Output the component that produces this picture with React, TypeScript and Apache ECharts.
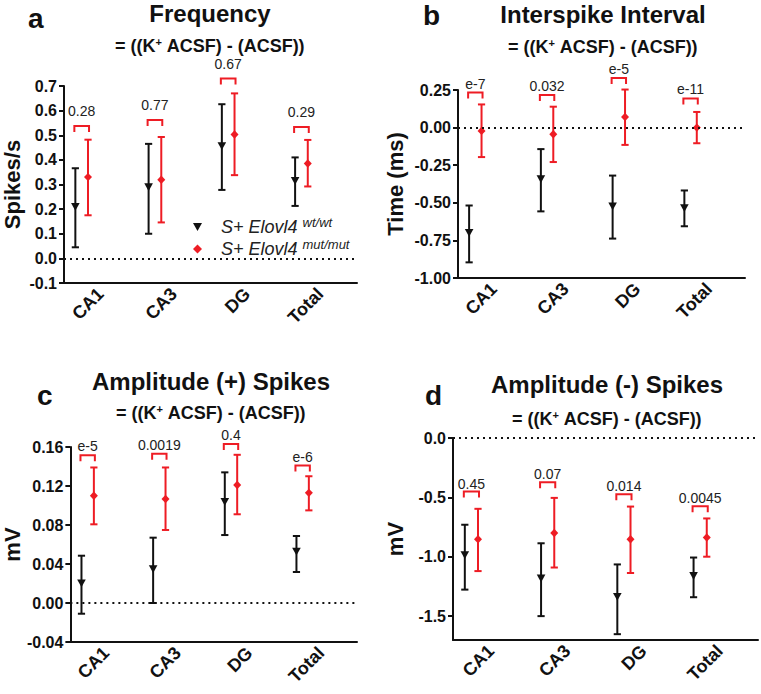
import React, { useEffect, useRef } from 'react';
import * as echarts from 'echarts';

const categories = ['CA1', 'CA3', 'DG', 'Total'];

// a: Frequency (Spikes/s)
const freqWtMean = [0.21, 0.29, 0.457, 0.316];
const freqWtLow = [0.045, 0.1, 0.278, 0.213];
const freqWtHigh = [0.366, 0.465, 0.626, 0.41];
const freqMutMean = [0.33, 0.319, 0.503, 0.385];
const freqMutLow = [0.175, 0.146, 0.338, 0.292];
const freqMutHigh = [0.482, 0.493, 0.67, 0.481];
const freqBracket = [0.538, 0.562, 0.73, 0.534];
const freqP = ['0.28', '0.77', '0.67', '0.29'];
const freqTicks = [-0.1, 0.7, 0.1];

// b: Interspike Interval (ms)
const isiWtMean = [-0.698, -0.341, -0.522, -0.533];
const isiWtLow = [-0.896, -0.557, -0.738, -0.656];
const isiWtHigh = [-0.518, -0.143, -0.319, -0.418];
const isiMutMean = [-0.022, -0.044, 0.07, 0.0];
const isiMutLow = [-0.196, -0.229, -0.115, -0.104];
const isiMutHigh = [0.154, 0.139, 0.253, 0.104];
const isiBracket = [0.233, 0.216, 0.33, 0.194];
const isiP = ['e-7', '0.032', 'e-5', 'e-11'];
const isiTicks = [-1, 0.25, 0.25];

// c: Amplitude (+) spikes (mV)
const ampPWtMean = [0.0205, 0.035, 0.104, 0.053];
const ampPWtLow = [-0.011, 0.0, 0.0697, 0.0318];
const ampPWtHigh = [0.0485, 0.067, 0.134, 0.0687];
const ampPMutMean = [0.11, 0.1067, 0.121, 0.113];
const ampPMutLow = [0.0807, 0.0749, 0.091, 0.095];
const ampPMutHigh = [0.139, 0.139, 0.152, 0.13];
const ampPBracket = [0.1515, 0.153, 0.163, 0.141];
const ampPP = ['e-5', '0.0019', '0.4', 'e-6'];
const ampPTicks = [-0.04, 0.16, 0.04];

// d: Amplitude (-) spikes (mV)
const ampNWtMean = [-0.983, -1.18, -1.335, -1.159];
const ampNWtLow = [-1.276, -1.499, -1.651, -1.34];
const ampNWtHigh = [-0.73, -0.886, -1.064, -1.006];
const ampNMutMean = [-0.852, -0.8, -0.852, -0.838];
const ampNMutLow = [-1.12, -1.09, -1.136, -0.999];
const ampNMutHigh = [-0.596, -0.504, -0.577, -0.677];
const ampNBracket = [-0.451, -0.373, -0.473, -0.574];
const ampNP = ['0.45', '0.07', '0.014', '0.0045'];
const ampNTickValues = [0, -0.5, -1, -1.5];
const ampNRange = [-1.7, 0];

const FONT = '"Liberation Sans", Arial, Helvetica, sans-serif';
const RED = '#ee1c24';
const BLACK = '#111111';
const WT_OFF = -0.345;
const MUT_OFF = -0.172;
const WT_NAME = 'S+ Elovl4 wt/wt';
const MUT_NAME = 'S+ Elovl4 mut/mut';

function errorSeries(name: string, g: number, mean: number[], lo: number[], hi: number[], color: string, kind: string, off: number) {
  return {
    type: 'custom',
    name,
    xAxisIndex: g,
    yAxisIndex: g,
    itemStyle: { color },
    data: mean.map((m, i) => [i, m, lo[i], hi[i]]),
    encode: { x: 0, y: [1, 2, 3] },
    renderItem: (params: any, api: any) => {
      const ci = api.value(0);
      const c = api.coord([ci, api.value(1)]);
      const band = api.size([1, 0])[0];
      const x = c[0] + off * band;
      const ym = c[1];
      const yl = api.coord([ci, api.value(2)])[1];
      const yh = api.coord([ci, api.value(3)])[1];
      const cw = 3.6;
      const ls = { stroke: color, lineWidth: 2 };
      const marker =
        kind === 'tri'
          ? { type: 'polygon', shape: { points: [[x - 4.3, ym - 3.6], [x + 4.3, ym - 3.6], [x, ym + 4.2]] }, style: { fill: color } }
          : { type: 'polygon', shape: { points: [[x, ym - 4.2], [x + 4, ym], [x, ym + 4.2], [x - 4, ym]] }, style: { fill: color } };
      return {
        type: 'group',
        children: [
          { type: 'line', shape: { x1: x, y1: yh, x2: x, y2: yl }, style: ls },
          { type: 'line', shape: { x1: x - cw, y1: yh, x2: x + cw, y2: yh }, style: ls },
          { type: 'line', shape: { x1: x - cw, y1: yl, x2: x + cw, y2: yl }, style: ls },
          marker,
        ],
      };
    },
  };
}

function bracketSeries(g: number, ys: number[], labels: string[], gap: number) {
  return {
    type: 'custom',
    name: 'p',
    xAxisIndex: g,
    yAxisIndex: g,
    data: ys.map((y, i) => [i, y]),
    encode: { x: 0, y: 1 },
    renderItem: (params: any, api: any) => {
      const ci = api.value(0);
      const c = api.coord([ci, api.value(1)]);
      const band = api.size([1, 0])[0];
      const x1 = c[0] + WT_OFF * band - 1;
      const x2 = c[0] + MUT_OFF * band + 1;
      const y = c[1];
      const leg = 6;
      return {
        type: 'group',
        children: [
          { type: 'polyline', shape: { points: [[x1, y + leg], [x1, y], [x2, y], [x2, y + leg]] }, style: { stroke: RED, lineWidth: 2, fill: null } },
          {
            type: 'text',
            style: {
              text: labels[params.dataIndex],
              x: (x1 + x2) / 2,
              y: y - gap + 2,
              align: 'center',
              verticalAlign: 'bottom',
              fontSize: 14,
              fontFamily: FONT,
              fill: '#222',
            },
          },
        ],
      };
    },
  };
}

function zeroLine(g: number) {
  return {
    type: 'line',
    name: 'zero',
    xAxisIndex: g,
    yAxisIndex: g,
    data: [],
    silent: true,
    markLine: {
      silent: true,
      symbol: ['none', 'none'],
      label: { show: false },
      lineStyle: { color: BLACK, width: 2, type: [2, 4] },
      data: [{ yAxis: 0 }],
    },
  };
}

function xAxis(g: number) {
  return {
    type: 'category',
    gridIndex: g,
    data: categories,
    boundaryGap: true,
    axisLine: { onZero: false, lineStyle: { color: BLACK, width: 2 } },
    axisTick: { alignWithLabel: true, length: 5, lineStyle: { color: BLACK, width: 2 } },
    axisLabel: { rotate: 45, margin: 8, fontSize: 18, fontWeight: 'bold', color: BLACK, fontFamily: FONT },
    splitLine: { show: false },
  };
}

function yAxis(g: number, name: string, nameGap: number, dec: number, extra: any) {
  return {
    type: 'value',
    gridIndex: g,
    axisLine: { show: true, lineStyle: { color: BLACK, width: 2 } },
    axisTick: { show: true, length: 5, lineStyle: { color: BLACK, width: 2 } },
    splitLine: { show: false },
    axisLabel: {
      formatter: (v: number) => (Math.abs(v) < 1e-9 ? 0 : v).toFixed(dec),
      fontSize: 16,
      fontWeight: 'bold',
      margin: 7,
      color: BLACK,
      fontFamily: FONT,
    },
    name,
    nameLocation: 'middle',
    nameRotate: 90,
    nameGap,
    nameTextStyle: { fontSize: 22, fontWeight: 'bold', fontFamily: FONT, color: BLACK },
    ...extra,
  };
}

function titleEls(cx: number, ty: number, sy: number, title: string, lx: number, ly: number, letter: string) {
  return [
    { type: 'text', x: cx, y: ty, style: { text: title, align: 'center', verticalAlign: 'middle', fontSize: 24, fontWeight: 'bold', fontFamily: FONT, fill: BLACK } },
    {
      type: 'text',
      x: cx,
      y: sy,
      style: {
        text: '= ((K{s|+} ACSF) - (ACSF))',
        align: 'center',
        verticalAlign: 'middle',
        fontSize: 18,
        fontWeight: 'bold',
        fontFamily: FONT,
        fill: BLACK,
        rich: { s: { fontSize: 11, fontWeight: 'bold', fontFamily: FONT, fill: BLACK, verticalAlign: 'top', lineHeight: 12 } },
      },
    },
    { type: 'text', x: lx, y: ly, style: { text: letter, align: 'left', verticalAlign: 'middle', fontSize: 28, fontWeight: 'bold', fontFamily: FONT, fill: BLACK } },
  ];
}

export default function App() {
  const ref = useRef<HTMLDivElement>(null);
  useEffect(() => {
    if (!ref.current) return;
    const chart = echarts.init(ref.current, undefined, { renderer: 'svg' });
    const option: any = {
      animation: false,
      backgroundColor: '#ffffff',
      grid: [
        { left: 63, top: 86, width: 294, height: 197 },
        { left: 458, top: 90, width: 287, height: 188 },
        { left: 63, top: 447, width: 294, height: 195 },
        { left: 453, top: 438, width: 305, height: 202 },
      ],
      xAxis: [xAxis(0), xAxis(1), xAxis(2), xAxis(3)],
      yAxis: [
        yAxis(0, 'Spikes/s', 41, 1, { min: freqTicks[0], max: freqTicks[1], interval: freqTicks[2] }),
        yAxis(1, 'Time (ms)', 52, 2, { min: isiTicks[0], max: isiTicks[1], interval: isiTicks[2] }),
        yAxis(2, 'mV', 40, 2, { min: ampPTicks[0], max: ampPTicks[1], interval: ampPTicks[2] }),
        (() => {
          const y = yAxis(3, 'mV', 47, 1, { min: ampNRange[0], max: ampNRange[1] });
          y.axisLabel = { ...y.axisLabel, customValues: ampNTickValues };
          y.axisTick = { ...y.axisTick, customValues: ampNTickValues };
          return y;
        })(),
      ],
      legend: {
        data: [
          { name: WT_NAME, icon: 'path://M0,0L10,0L5,9Z' },
          { name: MUT_NAME, icon: 'diamond' },
        ],
        left: 188,
        top: 211,
        orient: 'vertical',
        itemWidth: 9,
        itemHeight: 9,
        itemGap: 2,
        selectedMode: false,
        formatter: (n: string) => (n === WT_NAME ? '{m|S+ Elovl4 }{s|wt/wt}' : '{m|S+ Elovl4 }{s|mut/mut}'),
        textStyle: {
          rich: {
            m: { fontSize: 18, fontStyle: 'italic', fontFamily: FONT, color: '#222', padding: [0, 0, 0, 14], lineHeight: 22 },
            s: { fontSize: 13, fontStyle: 'italic', fontFamily: FONT, color: '#222', verticalAlign: 'top', lineHeight: 12 },
          },
        },
      },
      graphic: [
        ...titleEls(210, 13.6, 45.7, 'Frequency', 28, 18.2, 'a'),
        ...titleEls(603, 14.6, 46.7, 'Interspike Interval', 423, 15.2, 'b'),
        ...titleEls(211, 381.6, 412.7, 'Amplitude (+) Spikes', 37, 395.2, 'c'),
        ...titleEls(607, 384.6, 418.7, 'Amplitude (-) Spikes', 425, 395.2, 'd'),
      ],
      series: [
        zeroLine(0),
        errorSeries(WT_NAME, 0, freqWtMean, freqWtLow, freqWtHigh, BLACK, 'tri', WT_OFF),
        errorSeries(MUT_NAME, 0, freqMutMean, freqMutLow, freqMutHigh, RED, 'dia', MUT_OFF),
        bracketSeries(0, freqBracket, freqP, 10),
        zeroLine(1),
        errorSeries(WT_NAME, 1, isiWtMean, isiWtLow, isiWtHigh, BLACK, 'tri', WT_OFF),
        errorSeries(MUT_NAME, 1, isiMutMean, isiMutLow, isiMutHigh, RED, 'dia', MUT_OFF),
        bracketSeries(1, isiBracket, isiP, 4),
        zeroLine(2),
        errorSeries(WT_NAME, 2, ampPWtMean, ampPWtLow, ampPWtHigh, BLACK, 'tri', WT_OFF),
        errorSeries(MUT_NAME, 2, ampPMutMean, ampPMutLow, ampPMutHigh, RED, 'dia', MUT_OFF),
        bracketSeries(2, ampPBracket, ampPP, 4),
        zeroLine(3),
        errorSeries(WT_NAME, 3, ampNWtMean, ampNWtLow, ampNWtHigh, BLACK, 'tri', WT_OFF),
        errorSeries(MUT_NAME, 3, ampNMutMean, ampNMutLow, ampNMutHigh, RED, 'dia', MUT_OFF),
        bracketSeries(3, ampNBracket, ampNP, 3),
      ],
    };
    chart.setOption(option);
    return () => chart.dispose();
  }, []);
  return <div ref={ref} style={{ position: 'absolute', left: 0, top: 0, width: 761, height: 694, background: '#fff' }} />;
}
